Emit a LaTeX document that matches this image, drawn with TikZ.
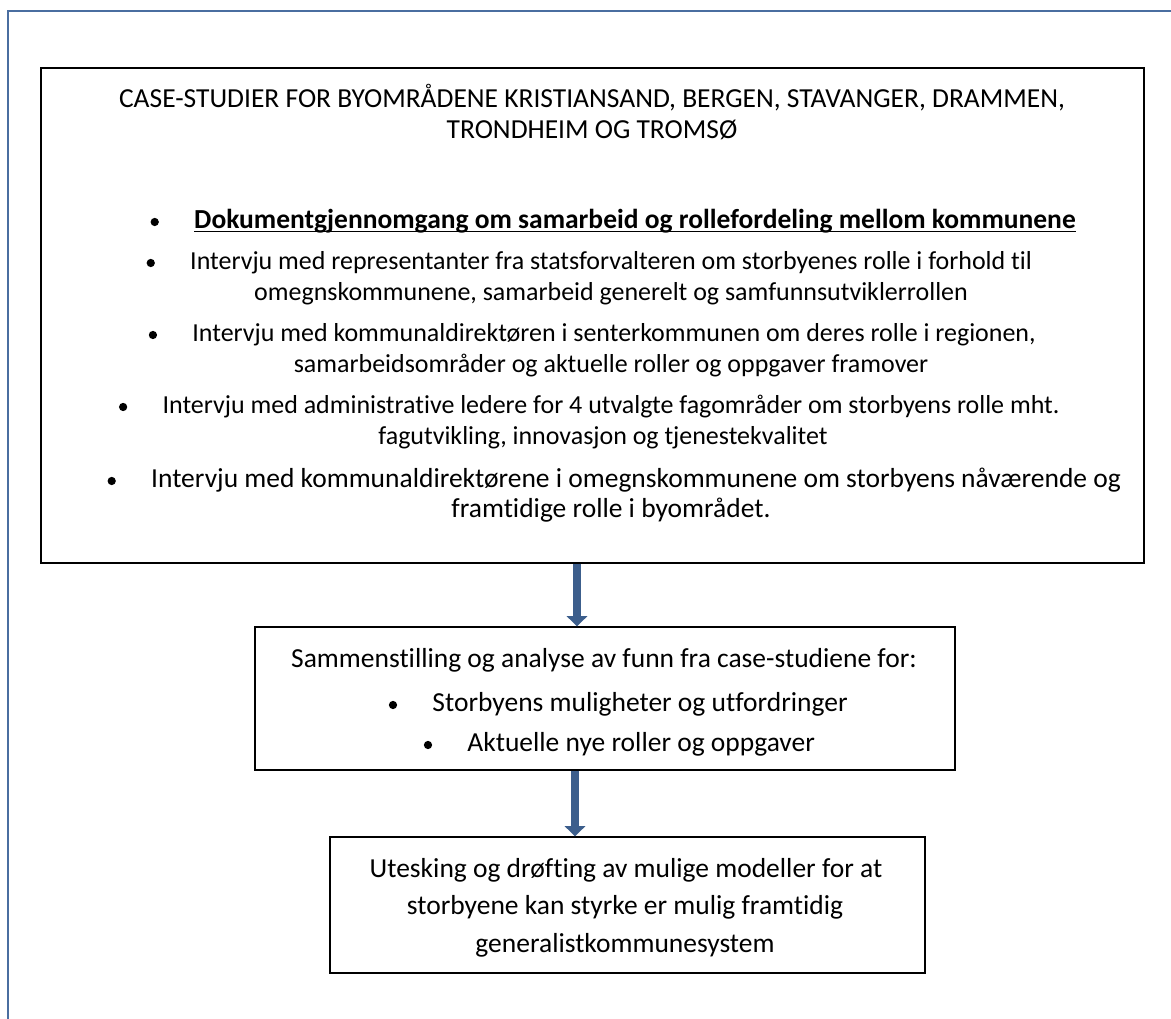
\documentclass[tikz,border=0pt]{standalone}
\usepackage{fontspec}
\setmainfont{Carlito}[Ligatures=NoCommon]
\usetikzlibrary{arrows.meta,fit,calc}
\definecolor{framecol}{RGB}{74,110,160}
\definecolor{arrowcol}{RGB}{60,94,140}
\newcommand\ulineX[1]{\setbox0\hbox{#1}\rlap{\rule[-1.3pt]{\wd0}{0.55pt}}\box0}
\tikzset{
  boxline/.style={draw=black, line width=0.6pt, inner sep=0pt},
  txt/.style={anchor=base, inner sep=0pt},
  txtw/.style={anchor=base west, inner sep=0pt},
  smalltxt/.style={anchor=base, inner sep=0pt, font=\fontsize{11pt}{13.4pt}\selectfont},
  bul/.style={circle, fill=black, inner sep=0pt, minimum size=3.5pt},
  flowarrow/.style={draw=arrowcol, line width=3.4pt, -{Triangle[width=8.6pt,length=4.3pt]}, arrowcol},
  framestyle/.style={draw=framecol, line width=0.9pt}
}
\begin{document}
\begin{tikzpicture}[x=0.4237pt, y=-0.4237pt, font=\fontsize{11.65pt}{14pt}\selectfont]
\useasboundingbox (0,0) rectangle (1171,1019);
% page frame
\draw[framestyle] (8,1019) -- (8,11) -- (1171,11);
% boxes
\coordinate (b1nw) at (41,68);
\coordinate (b1se) at (1144,563);
\node[boxline, fit=(b1nw)(b1se)] (b1) {};
\coordinate (b2nw) at (255,627);
\coordinate (b2se) at (955,770);
\node[boxline, fit=(b2nw)(b2se)] (b2) {};
\coordinate (b3nw) at (330,837);
\coordinate (b3se) at (925,973);
\node[boxline, fit=(b3nw)(b3se)] (b3) {};
% box 1 text
\node[txt] (t1) at (592,108) {CASE-STUDIER FOR BYOMRÅDENE KRISTIANSAND, BERGEN, STAVANGER, DRAMMEN,};
\node[txt] (t2) at (592,139) {TRONDHEIM OG TROMSØ};
\node[txt] (l1) at (635,229) {\textbf{\ulineX{Dokumentgjennomgang om samarbeid og rollefordeling mellom kommunene}}};
\node[bul] (d1) at ($(l1.base west)+(-39,-7)$) {};
\node[smalltxt] (l2a) at (611,270) {Intervju med representanter fra statsforvalteren om storbyenes rolle i forhold til};
\node[bul] (d2) at ($(l2a.base west)+(-39,-7)$) {};
\node[smalltxt] (l2b) at (611,301) {omegnskommunene, samarbeid generelt og samfunnsutviklerrollen};
\node[smalltxt] (l3a) at (614,342) {Intervju med kommunaldirektøren i senterkommunen om deres rolle i regionen,};
\node[bul] (d3) at ($(l3a.base west)+(-39,-7)$) {};
\node[smalltxt] (l3b) at (611,373) {samarbeidsområder og aktuelle roller og oppgaver framover};
\node[smalltxt] (l4a) at (611,414) {Intervju med administrative ledere for 4 utvalgte fagområder om storbyens rolle mht.};
\node[bul] (d4) at ($(l4a.base west)+(-39,-7)$) {};
\node[smalltxt] (l4b) at (603,445) {fagutvikling, innovasjon og tjenestekvalitet};
\node[txt] (l5a) at (636,488) {Intervju med kommunaldirektørene i omegnskommunene om storbyens nåværende og};
\node[bul] (d5) at ($(l5a.base west)+(-39,-7)$) {};
\node[txt] (l5b) at (611,518) {framtidige rolle i byområdet.};
% box 2 text
\node[txt] (m1) at (604,668) {Sammenstilling og analyse av funn fra case-studiene for:};
\node[txtw] (m2) at (432,712) {Storbyens muligheter og utfordringer};
\node[bul] (e2) at ($(m2.base west)+(-39,-7)$) {};
\node[txtw] (m3) at (467,752) {Aktuelle nye roller og oppgaver};
\node[bul] (e3) at ($(m3.base west)+(-39,-7)$) {};
% box 3 text
\node[txt] (u1) at (626,878) {Utesking og drøfting av mulige modeller for at};
\node[txt] (u2) at (625,915) {storbyene kan styrke er mulig framtidig};
\node[txt] (u3) at (625,953) {generalistkommunesystem};
% arrows
\coordinate (ax1) at (577,0);
\coordinate (ax2) at (575,0);
\draw[flowarrow] (b1.south -| ax1) -- (b2.north -| ax1);
\draw[flowarrow] (b2.south -| ax2) -- (b3.north -| ax2);
\end{tikzpicture}
\end{document}
